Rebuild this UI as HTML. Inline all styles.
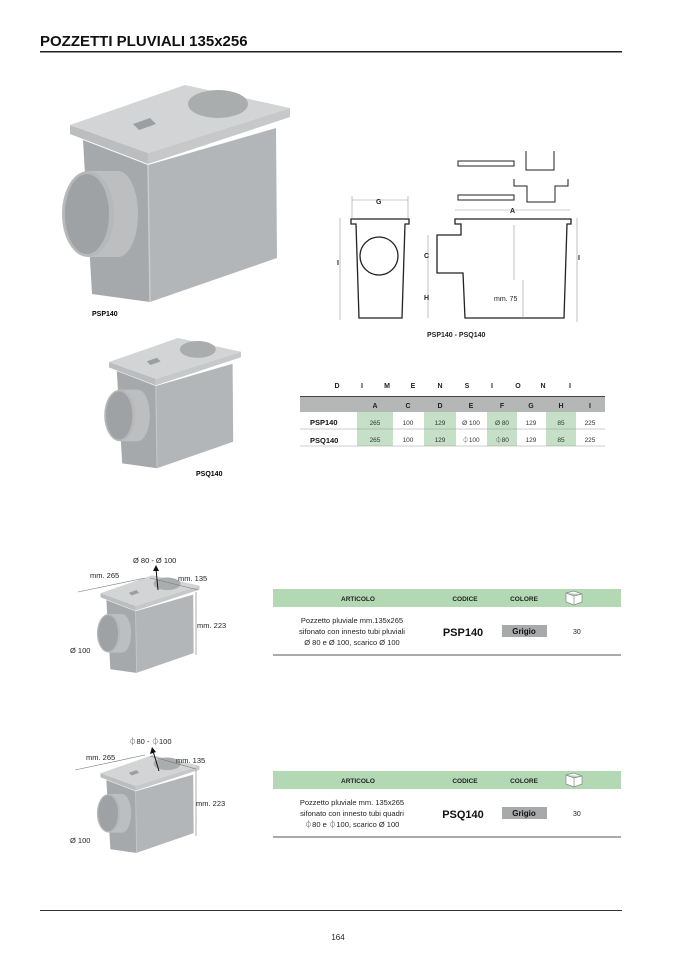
<!DOCTYPE html>
<html><head><meta charset="utf-8"><style>
body{margin:0;background:#fff}
svg{display:block}
text{font-family:"Liberation Sans",sans-serif}
</style></head><body>
<svg width="677" height="958" viewBox="0 0 677 958" xmlns="http://www.w3.org/2000/svg">
<defs>
<g id="box">
  <polygon points="83,140 148,165 150,302 92,294" fill="#a6a9ab"/>
  <polygon points="148,165 276,128 277,258 150,302" fill="#b3b6b8"/>
  <line x1="148" y1="165" x2="150" y2="302" stroke="#c9cbcc" stroke-width="1.5"/>
  <path d="M88,171 L118,171 A20,43 0 0 1 118,257 L88,257 Z" fill="#bcbebf"/>
  <ellipse cx="88" cy="214" rx="26" ry="43" fill="#b6b8b9"/>
  <ellipse cx="87" cy="214" rx="22" ry="40" fill="#9fa2a4"/>
  <polygon points="70,125 148,153 148,164 70,134" fill="#bbbdbe"/>
  <polygon points="148,153 290,108 290,117 148,164" fill="#c6c8c9"/>
  <polygon points="70,125 185,85 290,108 148,153" fill="#d2d4d5"/>
  <ellipse cx="218" cy="104" rx="30" ry="14" fill="#aaadae"/>
  <polygon points="133,124 150,118 156,124 139,130" fill="#9c9fa1"/>
</g>
</defs>
<text x="40" y="46" font-size="15" font-weight="bold" fill="#111">POZZETTI PLUVIALI 135x256</text>
<rect x="40" y="51" width="582" height="1.5" fill="#222"/>

<use href="#box"/>
<text x="92" y="316" font-size="7" font-weight="bold">PSP140</text>
<use href="#box" transform="translate(67,287) scale(0.6)"/>
<text x="196" y="476" font-size="7" font-weight="bold">PSQ140</text>

<g fill="none" stroke="#222" stroke-width="1.3">
  <path d="M351,219 H409 V224 H405 L402,318 H359 L356,224 H351 Z"/>
  <circle cx="379" cy="256" r="19"/>
  <path d="M455,219 H571 V224 H567 L564,318 H465 L463,273 H437 V235 H461 V224 H455 Z"/>
  <path d="M458,195 H514 V200 H458 Z M458,161 H514 V166 H458 Z" stroke-width="1"/>
  <path d="M526,151 V170 H554 V151 M514,179 V186 H527 V202 H555 V186 H568 V179" stroke-width="1"/>
</g>
<g stroke="#999" stroke-width="0.6" fill="none">
  <line x1="352" y1="200" x2="408" y2="200"/><line x1="352" y1="196" x2="352" y2="218"/><line x1="408" y1="196" x2="408" y2="218"/>
  <line x1="455" y1="210" x2="570" y2="210"/>
  <line x1="340" y1="218" x2="340" y2="320"/>
  <line x1="577" y1="218" x2="577" y2="322"/>
  <line x1="428" y1="235" x2="428" y2="273"/><line x1="428" y1="273" x2="428" y2="318"/>
  <line x1="514" y1="225" x2="514" y2="280"/><line x1="523" y1="280" x2="523" y2="318"/>
</g>
<g font-size="7" font-weight="bold" fill="#222">
  <text x="376" y="204">G</text><text x="510" y="213">A</text>
  <text x="337" y="265">I</text><text x="578" y="260">I</text>
  <text x="424" y="258">C</text><text x="424" y="300">H</text>
  <text x="494" y="301" font-weight="normal">mm. 75</text>
  <text x="427" y="337">PSP140 - PSQ140</text>
</g>

<g font-size="7" font-weight="bold" fill="#222" text-anchor="middle">
  <text x="337" y="388">D</text><text x="362" y="388">I</text><text x="387" y="388">M</text><text x="413" y="388">E</text><text x="440" y="388">N</text><text x="467" y="388">S</text><text x="492" y="388">I</text><text x="518" y="388">O</text><text x="543" y="388">N</text><text x="570" y="388">I</text>
</g>
<rect x="300" y="396" width="305" height="16" fill="#b5b6b6"/>
<line x1="300" y1="396.5" x2="605" y2="396.5" stroke="#444" stroke-width="1"/>
<g fill="#c6e0c8">
  <rect x="357" y="412" width="36" height="34"/><rect x="424" y="412" width="32" height="34"/>
  <rect x="487" y="412" width="30" height="34"/><rect x="546" y="412" width="30" height="34"/>
</g>
<line x1="300" y1="429" x2="605" y2="429" stroke="#999" stroke-width="0.6"/>
<line x1="300" y1="446" x2="605" y2="446" stroke="#999" stroke-width="0.6"/>
<g font-size="7" font-weight="bold" fill="#222" text-anchor="middle">
  <text x="375" y="408">A</text><text x="408" y="408">C</text><text x="440" y="408">D</text><text x="471" y="408">E</text><text x="502" y="408">F</text><text x="531" y="408">G</text><text x="561" y="408">H</text><text x="590" y="408">I</text>
</g>
<g font-size="7.5" font-weight="bold" fill="#111"><text x="310" y="425">PSP140</text><text x="310" y="443">PSQ140</text></g>
<g font-size="6.5" fill="#333" text-anchor="middle">
  <text x="375" y="425">265</text><text x="408" y="425">100</text><text x="440" y="425">129</text><text x="471" y="425">Ø 100</text><text x="502" y="425">Ø 80</text><text x="531" y="425">129</text><text x="561" y="425">85</text><text x="590" y="425">225</text>
  <text x="375" y="442">265</text><text x="408" y="442">100</text><text x="440" y="442">129</text><text x="471" y="442">⏀100</text><text x="502" y="442">⏀80</text><text x="531" y="442">129</text><text x="561" y="442">85</text><text x="590" y="442">225</text>
</g>

<use href="#box" transform="translate(69,537) scale(0.45)"/>
<use href="#box" transform="translate(69,717) scale(0.45)"/>
<g stroke="#777" stroke-width="0.6">
  <line x1="78" y1="592" x2="145" y2="578"/><line x1="150" y1="578" x2="198" y2="590"/><line x1="196" y1="592" x2="196" y2="655"/>
  <line x1="75" y1="770" x2="145" y2="755"/><line x1="150" y1="756" x2="196" y2="769"/><line x1="196" y1="770" x2="196" y2="836"/>
</g>
<g stroke="#111" stroke-width="1"><line x1="158" y1="590" x2="156" y2="569"/><line x1="159" y1="771" x2="153" y2="751"/></g>
<polygon points="156,565 153,571 159,571" fill="#111"/><polygon points="152,747 150,754 156,752" fill="#111"/>
<g font-size="7.5" fill="#222">
  <text x="133" y="563">Ø 80 - Ø 100</text><text x="90" y="578">mm. 265</text><text x="178" y="581">mm. 135</text><text x="197" y="628">mm. 223</text><text x="70" y="653">Ø 100</text>
  <text x="129" y="744">⏀80 - ⏀100</text><text x="86" y="760">mm. 265</text><text x="176" y="763">mm. 135</text><text x="196" y="806">mm. 223</text><text x="70" y="843">Ø 100</text>
</g>

<g id="t1">
<rect x="273" y="589" width="348" height="18" fill="#b3d8b4"/>
<g font-size="6.5" font-weight="bold" fill="#222" text-anchor="middle"><text x="358" y="601">ARTICOLO</text><text x="465" y="601">CODICE</text><text x="524" y="601">COLORE</text></g>
<path d="M566,593 L574,591 L582,594 L582,602 L574,605 L566,602 Z M566,593 L574,596 L582,594 M574,596 V605" fill="#fff" stroke="#888" stroke-width="0.7"/>
<rect x="502" y="625" width="45" height="12" fill="#a7a9aa"/>
<text x="524" y="634" font-size="8" font-weight="bold" text-anchor="middle" fill="#111">Grigio</text>
<text x="573" y="634" font-size="7" fill="#222">30</text>
<rect x="273" y="654" width="348" height="2" fill="#aaa"/>
</g>
<g font-size="7.5" fill="#222" text-anchor="middle"><text x="352" y="623">Pozzetto pluviale mm.135x265</text><text x="352" y="634">sifonato con innesto tubi pluviali</text><text x="352" y="645">Ø 80 e Ø 100, scarico Ø 100</text></g>
<text x="463" y="636" font-size="11" font-weight="bold" text-anchor="middle" fill="#111">PSP140</text>

<use href="#t1" transform="translate(0,182)"/>
<g font-size="7.5" fill="#222" text-anchor="middle"><text x="352" y="805">Pozzetto pluviale mm. 135x265</text><text x="352" y="816">sifonato con innesto tubi quadri</text><text x="352" y="827">⏀80 e ⏀100, scarico Ø 100</text></g>
<text x="463" y="818" font-size="11" font-weight="bold" text-anchor="middle" fill="#111">PSQ140</text>

<rect x="40" y="910" width="582" height="1" fill="#333"/>
<text x="338" y="940" font-size="8" text-anchor="middle" fill="#222">164</text>
</svg>
</body></html>
